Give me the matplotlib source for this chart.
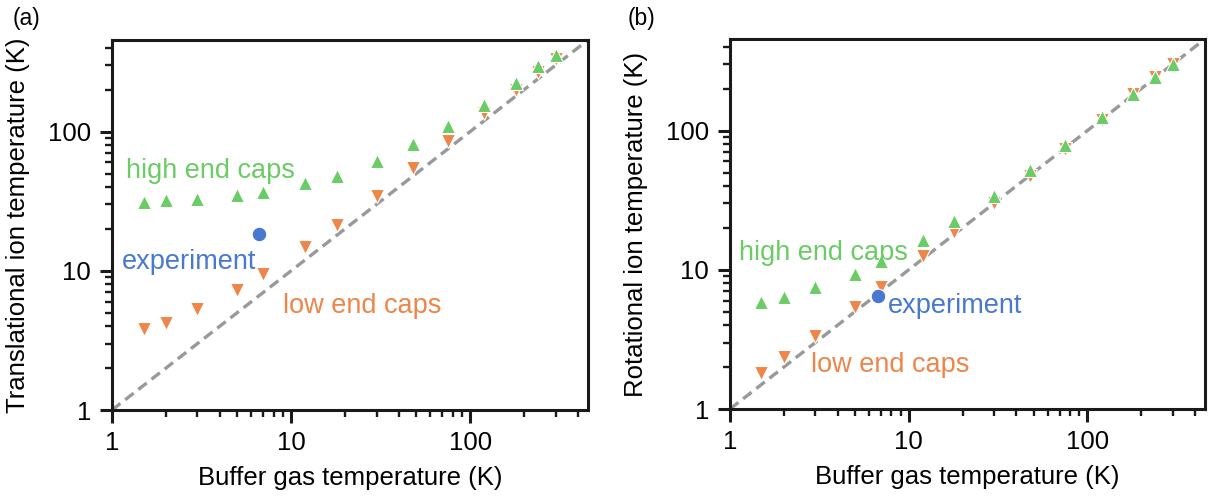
"""Ion temperature vs buffer gas temperature, two log-log panels."""

import matplotlib.pyplot as plt
import numpy as np

plt.rcParams["font.family"] = ["Liberation Sans", "DejaVu Sans"]

GREEN = "#6ACC64"
ORANGE = "#EE854A"
BLUE = "#4878D0"
GRAY = "#999999"

buffer_t = [1.5, 2, 3, 5, 7, 12, 18, 30, 48, 75, 120, 180, 240, 300]

# panel (a): translational temperature
trans_high = [31, 32, 33, 35, 37, 43, 48, 61, 81, 109, 156, 225, 294, 354]
trans_low = [3.8, 4.2, 5.3, 7.3, 9.5, 14.9, 21.4, 34.7, 55, 85, 137, 200, 270, 335]
trans_exp = (6.6, 18.5)

# panel (b): rotational temperature
rot_high = [5.85, 6.35, 7.5, 9.4, 11.5, 16.5, 22.3, 34, 52, 79, 126, 184, 244, 302]
rot_low = [1.81, 2.36, 3.33, 5.4, 7.5, 12.5, 18.6, 30, 47.5, 74, 120, 182, 243, 303]
rot_exp = (6.7, 6.46)

FS = 18.5
LIM = (1, 455)


def style_axes(ax):
    ax.set_xscale("log")
    ax.set_yscale("log")
    ax.set_xlim(*LIM)
    ax.set_ylim(*LIM)
    for sp in ax.spines.values():
        sp.set_linewidth(2.2)
        sp.set_color("#1a1a1a")
    ax.tick_params(which="major", length=9, width=2.2, labelsize=FS, color="#1a1a1a", pad=6)
    ax.tick_params(which="minor", length=5, width=1.7, color="#1a1a1a")
    ax.set_xticks([1, 10, 100])
    ax.set_xticklabels(["1", "10", "100"])
    ax.set_yticks([1, 10, 100])
    ax.set_yticklabels(["1", "10", "100"])
    ax.set_xlabel("Buffer gas temperature (K)", fontsize=FS, labelpad=8)
    ax.plot(LIM, LIM, ls=(0, (3.2, 1.8)), color=GRAY, lw=2.4, zorder=1)


def draw(ax, high, low, exp):
    mk = dict(ls="none", markersize=10.5, markeredgecolor="white", markeredgewidth=0.8, zorder=3)
    ax.plot(buffer_t, low, marker="v", color=ORANGE, **mk)
    ax.plot(buffer_t, high, marker="^", color=GREEN, **mk)
    ax.plot([exp[0]], [exp[1]], marker="o", color=BLUE, ls="none", markersize=10.5,
            markeredgecolor="white", markeredgewidth=0.8, zorder=4)


fig = plt.figure(figsize=(12.09, 4.98), dpi=100)
ax1 = fig.add_axes([112 / 1209, 88 / 498, 476 / 1209, 370 / 498])
ax2 = fig.add_axes([730 / 1209, 89 / 498, 475 / 1209, 370 / 498])

style_axes(ax1)
draw(ax1, trans_high, trans_low, trans_exp)
ax1.set_ylabel("Translational ion temperature (K)", fontsize=FS, labelpad=13)
ax1.text(1.2, 52, "high end caps", color=GREEN, fontsize=FS + 1, va="center")
ax1.text(1.13, 11.6, "experiment", color=BLUE, fontsize=FS + 1, va="center")
ax1.text(9.0, 5.6, "low end caps", color=ORANGE, fontsize=FS + 1, va="center")

style_axes(ax2)
draw(ax2, rot_high, rot_low, rot_exp)
ax2.set_ylabel("Rotational ion temperature (K)", fontsize=FS, labelpad=13)
ax2.text(1.12, 13.2, "high end caps", color=GREEN, fontsize=FS + 1, va="center")
ax2.text(7.6, 5.5, "experiment", color=BLUE, fontsize=FS + 1, va="center")
ax2.text(2.85, 2.08, "low end caps", color=ORANGE, fontsize=FS + 1, va="center")

fig.text(13 / 1209, 1 - 18 / 498, "(a)", fontsize=FS - 2, va="center")
fig.text(628 / 1209, 1 - 18 / 498, "(b)", fontsize=FS - 2, va="center")

fig.savefig("out.png", dpi=100)
